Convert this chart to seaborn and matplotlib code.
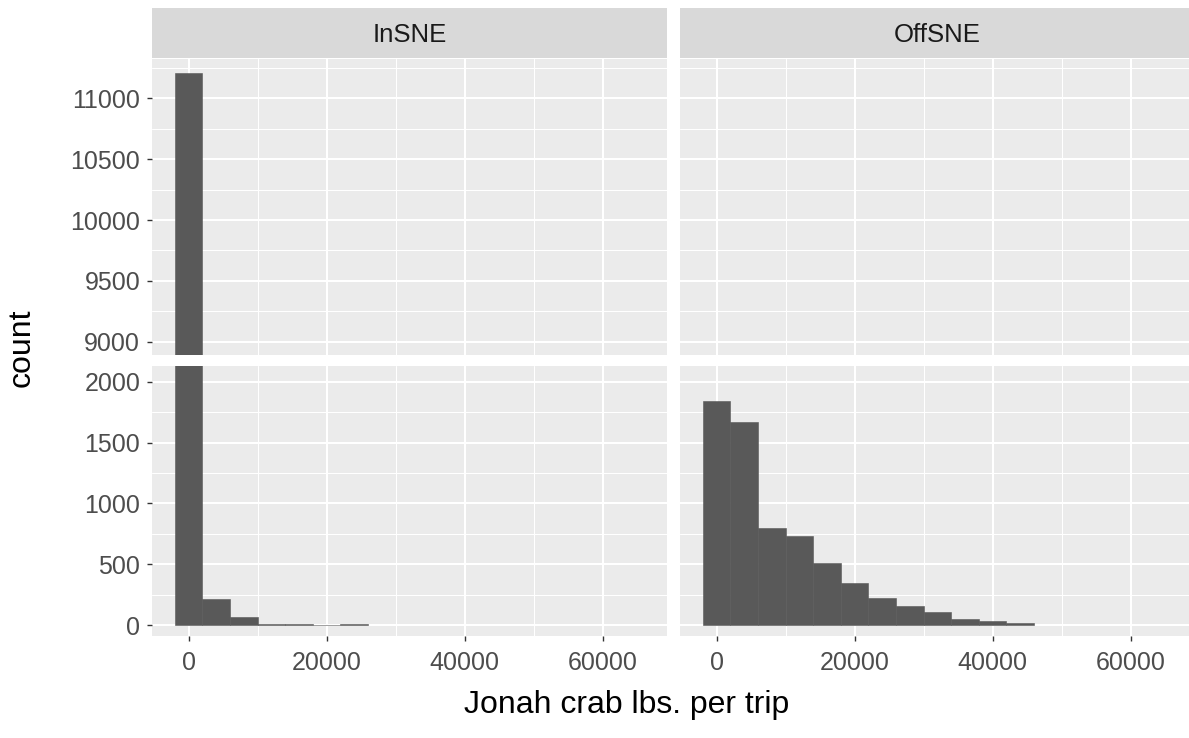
import numpy as np
import pandas as pd
import matplotlib
matplotlib.use("Agg")
import matplotlib.pyplot as plt
import seaborn as sns

# ---------------- data ----------------
facets = ["InSNE", "OffSNE"]
bin_width = 4000
in_centers = [0, 4000, 8000, 12000, 16000, 20000, 24000]
in_counts = [11208, 210, 66, 12, 9, 0, 10]
off_centers = [0, 4000, 8000, 12000, 16000, 20000, 24000, 28000,
               32000, 36000, 40000, 44000]
off_counts = [1845, 1672, 800, 732, 507, 343, 219, 156, 104, 49, 33, 19]

x_ticks = [0, 20000, 40000, 60000]
x_minor = [10000, 30000, 50000]
y_ticks_upper = [9000, 9500, 10000, 10500, 11000]
y_minor_upper = [9250, 9750, 10250, 10750, 11250]
y_ticks_lower = [0, 500, 1000, 1500, 2000]
y_minor_lower = [250, 750, 1250, 1750]

x_limits = (-5320, 69290)
y_limits_upper = (8891, 11323)
y_limits_lower = (-90, 2129)

xlabel = "Jonah crab lbs. per trip"
ylabel = "count"

# ---------------- style ----------------
sns.set_style("darkgrid")
plt.rcParams["font.family"] = ["Liberation Sans", "DejaVu Sans"]

W, H = 1189, 738
fig = plt.figure(figsize=(W / 100, H / 100), dpi=100)

def fx(px):
    return px / W

def fy(px):
    return 1 - px / H

panel_bg = "#EBEBEB"
bar_col = "#595959"
tick_col = "#4D4D4D"

col_x = [152, 680]
col_w = 514.7
rows = [(59, 355), (366, 636)]  # top, bottom in px

data = {
    "InSNE": pd.DataFrame({"lbs": in_centers, "n": in_counts}),
    "OffSNE": pd.DataFrame({"lbs": off_centers, "n": off_counts}),
}

for ci, fac in enumerate(facets):
    df = data[fac]
    x0 = col_x[ci]
    # strip
    sax = fig.add_axes([fx(x0), fy(58), fx(col_w), (58 - 8) / H])
    sax.set_facecolor("#D9D9D9")
    sax.set_xticks([]); sax.set_yticks([])
    for s in sax.spines.values():
        s.set_visible(False)
    sax.grid(False)
    sax.text(0.5, 0.47, fac, ha="center", va="center", fontsize=18.5,
             color="#1A1A1A", transform=sax.transAxes)

    for ri, (top, bot) in enumerate(rows):
        ax = fig.add_axes([fx(x0), fy(bot), fx(col_w), (bot - top) / H])
        ax.set_facecolor(panel_bg)
        sns.histplot(x=df["lbs"], weights=df["n"], binwidth=bin_width,
                     binrange=(-bin_width / 2, max(df["lbs"]) + bin_width / 2),
                     color=bar_col, alpha=1, edgecolor=bar_col, linewidth=0.4,
                     ax=ax)
        ax.set_xlabel(""); ax.set_ylabel("")
        ax.set_xlim(*x_limits)
        if ri == 0:
            ax.set_ylim(*y_limits_upper)
            ax.set_yticks(y_ticks_upper)
            ax.set_yticks(y_minor_upper, minor=True)
        else:
            ax.set_ylim(*y_limits_lower)
            ax.set_yticks(y_ticks_lower)
            ax.set_yticks(y_minor_lower, minor=True)
        ax.set_xticks(x_ticks)
        ax.set_xticks(x_minor, minor=True)
        ax.set_axisbelow(True)
        ax.grid(which="major", color="white", linewidth=1.5)
        ax.grid(which="minor", color="white", linewidth=0.75)
        for s in ax.spines.values():
            s.set_visible(False)
        ax.tick_params(which="minor", length=0)
        ax.tick_params(which="major", length=3.5, width=1.0, color="#333333",
                       labelsize=18, labelcolor=tick_col)
        ax.tick_params(axis="y", pad=5)
        ax.tick_params(axis="x", pad=7)
        if ci == 0:
            ax.tick_params(axis="y", left=True, labelleft=True)
        else:
            ax.tick_params(axis="y", left=False, labelleft=False)
        if ri == 1:
            ax.tick_params(axis="x", bottom=True, labelbottom=True)
            ax.set_xticklabels([str(v) for v in x_ticks])
        else:
            ax.tick_params(axis="x", bottom=False, labelbottom=False)
        if ci == 0:
            ax.set_yticklabels([str(v) for v in (y_ticks_upper if ri == 0 else y_ticks_lower)])

fig.text(fx(627), fy(713), xlabel, ha="center", va="baseline", fontsize=23,
         color="black")
fig.text(fx(22), fy(348), ylabel, ha="center", va="center", rotation=90,
         fontsize=23, color="black")

fig.savefig("out.png", dpi=100)
